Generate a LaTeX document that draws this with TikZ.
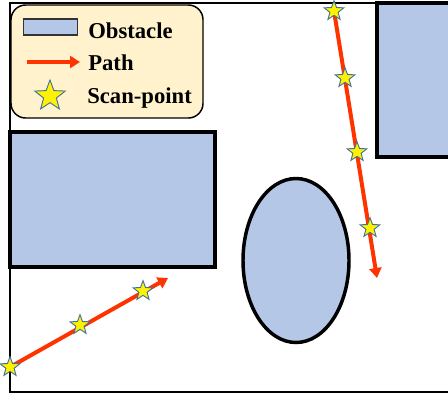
\documentclass[tikz,border=0pt]{standalone}
\usepackage{fontspec}
\setmainfont{Liberation Serif}
\usetikzlibrary{arrows.meta, positioning, shapes.geometric}

\definecolor{obsblue}{HTML}{B4C7E7}
\definecolor{legfill}{HTML}{FFF2CC}
\definecolor{pathred}{HTML}{FF3300}
\definecolor{starline}{HTML}{41719C}

\begin{document}
\begin{tikzpicture}[
    x=0.75pt, y=-0.75pt,
    every node/.style={font=\fontsize{17}{20}\selectfont\bfseries},
    obstacle/.style={draw, fill=obsblue, line width=2.6pt, inner sep=0pt, outer sep=0pt},
    legendbox/.style={draw, fill=legfill, line width=1.1pt, rounded corners=11pt, inner sep=0pt},
    scanstar/.style={star, star points=5, star point ratio=2.4, draw=starline, fill=yellow,
                     line width=0.7pt, inner sep=0pt, minimum size=15.5pt},
    pathline/.style={draw=pathred, line width=3pt, -{Triangle[length=7.5pt, width=9pt]}},
  ]
  \useasboundingbox (0,0) rectangle (448,394);
  \clip (0,0) rectangle (448,394);

  % field border
  \draw[line width=1.5pt] (10,3) rectangle (480,392);

  % obstacles
  \node[obstacle, minimum width=153.75pt, minimum height=101.25pt] (boxleft) at (112.5,199.5) {};
  \node[obstacle, minimum width=77pt, minimum height=115.5pt] (boxright) at (428.5,80) {};
  \node[obstacle, ellipse, minimum width=79.5pt, minimum height=123pt] (blob) at (296,260.5) {};

  % path along the bottom
  \coordinate (a1) at (10,367);
  \coordinate (a2) at (80,325);
  \coordinate (a3) at (143,291);
  \coordinate (aend) at (168,278);
  \draw[pathline] (a1) -- (aend);
  \foreach \p in {a1,a2,a3}
    \node[scanstar] (star-\p) at (\p) {};

  % path on the right
  \coordinate (b1) at (334,11);
  \coordinate (b2) at (345,78);
  \coordinate (b3) at (357,152);
  \coordinate (b4) at (370,228);
  \coordinate (bend) at (377,278);
  \draw[pathline] (b1) -- (bend);
  \foreach \p in {b1,b2,b3,b4}
    \node[scanstar] (star-\p) at (\p) {};

  % legend
  \node[legendbox, minimum width=144pt, minimum height=84.75pt] (legend) at (107,61.5) {};
  \node[obstacle, line width=0.9pt, draw=black!80, minimum width=41pt, minimum height=12pt] (keyobs) at (50.5,27) {};
  \node[anchor=base west, inner sep=0pt] (txtobs) at (88,38) {Obstacle};
  \coordinate (keyfrom) at (27,62);
  \coordinate (keyto) at (80,62);
  \draw[pathline] (keyfrom) -- (keyto);
  \node[anchor=base west, inner sep=0pt] (txtpath) at (88,70) {Path};
  \node[scanstar, minimum size=24pt] (keystar) at (50,96) {};
  \node[anchor=base west, inner sep=0pt] (txtstar) at (87,103) {Scan-point};
\end{tikzpicture}
\end{document}
